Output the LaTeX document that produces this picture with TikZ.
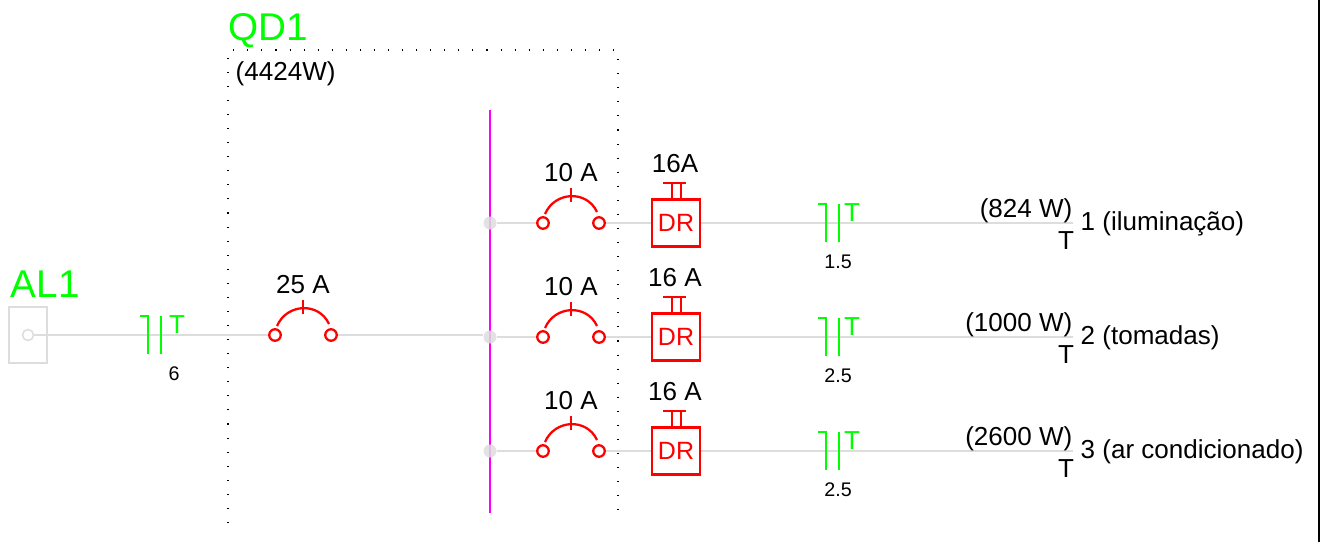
\documentclass[tikz,border=0pt]{standalone}
\usepackage{fontspec}
\setmainfont{Liberation Sans}

\definecolor{wiregray}{HTML}{DDDDDD}
\definecolor{cablegreen}{HTML}{00FF00}
\definecolor{busmagenta}{HTML}{FF00FF}

\tikzset{
    wire/.style={line width=0.55pt, wiregray},
    redline/.style={line width=0.65pt, red},
    greenline/.style={line width=0.65pt, cablegreen},
    terminal/.style={circle, draw=red, line width=0.65pt, fill=white, minimum size=0.115cm, inner sep=0pt},
    junction/.style={circle, fill=wiregray, fill opacity=0.85, minimum size=0.13cm, inner sep=0pt},
    drbox/.style={rectangle, draw=red, line width=0.65pt, fill=white, text=red, minimum width=0.48cm, minimum height=0.47cm, inner sep=0pt, font=\fontsize{7.1pt}{8pt}\selectfont},
    normal/.style={inner sep=0pt, font=\fontsize{7.4pt}{8pt}\selectfont},
    small/.style={inner sep=0pt, font=\fontsize{5.6pt}{7pt}\selectfont},
    title/.style={inner sep=0pt, text=cablegreen, font=\fontsize{11pt}{12pt}\selectfont},
    phase/.style={inner sep=0pt, text=cablegreen, font=\fontsize{7.4pt}{8pt}\selectfont}
}

\begin{document}
\begin{tikzpicture}[x=0.01cm, y=-0.01cm]
    \useasboundingbox (0,0) rectangle (1322,542);

    % Right page edge
    \draw[line width=0.57pt] (1319,0) -- (1319,542);

    % QD1 frame (dotted, open at the bottom)
    \draw[line width=0.3pt, dash pattern=on 0.3pt off 3.7pt] (228,523) -- (228,50) -- (618,50) -- (618,523);
    \node[title, anchor=west] (qdname) at (228,31) {QD1};
    \node[normal, anchor=west] (qdload) at (235,74) {(4424W)};

    % AL1 supply box
    \node[rectangle, draw=wiregray, line width=0.55pt, minimum width=0.38cm, minimum height=0.56cm, inner sep=0pt] (albox) at (28,335) {};
    \node[circle, draw=wiregray, line width=0.45pt, minimum size=0.11cm, inner sep=0pt] (alterm) at (28,335) {};
    \node[title, anchor=west] (alname) at (10,284) {AL1};

    % Bus bar
    \draw[line width=0.75pt, busmagenta] (490,110) -- (490,513);

    % Bus junctions
    \foreach \y/\n in {223/a, 337/b, 451/c} {
        \node[junction] (dot\n) at (490,\y) {};
    }

    % Breakers
    \foreach \x/\y/\n/\amp in {275/335/f/25 A, 543/223/a/10 A, 543/337/b/10 A, 543/451/c/10 A} {
        \node[terminal] (brkl\n) at (\x,\y) {};
        \node[terminal] (brkr\n) at ({\x+56},\y) {};
        \draw[redline] ({\x+2},{\y-9}) .. controls ({\x+12},{\y-32}) and ({\x+44},{\y-33}) .. ({\x+54},{\y-11});
        \draw[redline] ({\x+28},{\y-35}) -- ({\x+28},{\y-21});
        \node[normal] (amp\n) at ({\x+28},{\y-50}) {\amp};
    }

    % DR devices and outgoing circuits
    \foreach \y/\n/\amp/\load/\txt in {223/a/16A/{(824 W)}/{1 (iluminação)}, 337/b/16 A/{(1000 W)}/{2 (tomadas)}, 451/c/16 A/{(2600 W)}/{3 (ar condicionado)}} {
        \node[drbox] (dr\n) at (676,\y) {DR};
        \draw[redline] (672,{\y-23}) -- (672,{\y-40});
        \draw[redline] (681,{\y-23}) -- (681,{\y-40});
        \draw[redline] (663,{\y-40}) -- (686,{\y-40});
        \node[normal] (damp\n) at (675,{\y-59}) {\amp};
        \coordinate (end\n) at (1073,\y);
        \draw[wire] (dot\n) -- (brkl\n);
        \draw[wire] (brkr\n) -- (dr\n);
        \draw[wire] (dr\n) -- (end\n);
        \node[normal, anchor=east] (load\n) at (1073,{\y-12}) {\load};
        \node[normal] (neutral\n) at (1066,{\y+18}) {T};
        \node[normal, anchor=west] (name\n) at (1080,{\y+1}) {\txt};
    }

    % Feeder
    \draw[wire] (alterm) -- (brklf);
    \draw[wire] (brkrf) -- (brkrf -| dotb.west);

    % Cable marks
    \foreach \x/\y/\n/\lx/\tx in {148/335/f/174/177, 826/223/a/838/852, 826/337/b/838/852, 826/451/c/838/852} {
        \draw[greenline] ({\x-8},{\y-19}) -- (\x,{\y-19}) -- (\x,{\y+19});
        \draw[greenline] ({\x+13},{\y-19}) -- ({\x+13},{\y+19});
        \node[phase] (phase\n) at (\tx,{\y-10}) {T};
    }

    % Cable sizes
    \node[small] (gaugef) at (174,373.5) {6};
    \node[small] (gaugea) at (838,261.5) {1.5};
    \node[small] (gaugeb) at (838,375.5) {2.5};
    \node[small] (gaugec) at (838,489.5) {2.5};
\end{tikzpicture}
\end{document}
